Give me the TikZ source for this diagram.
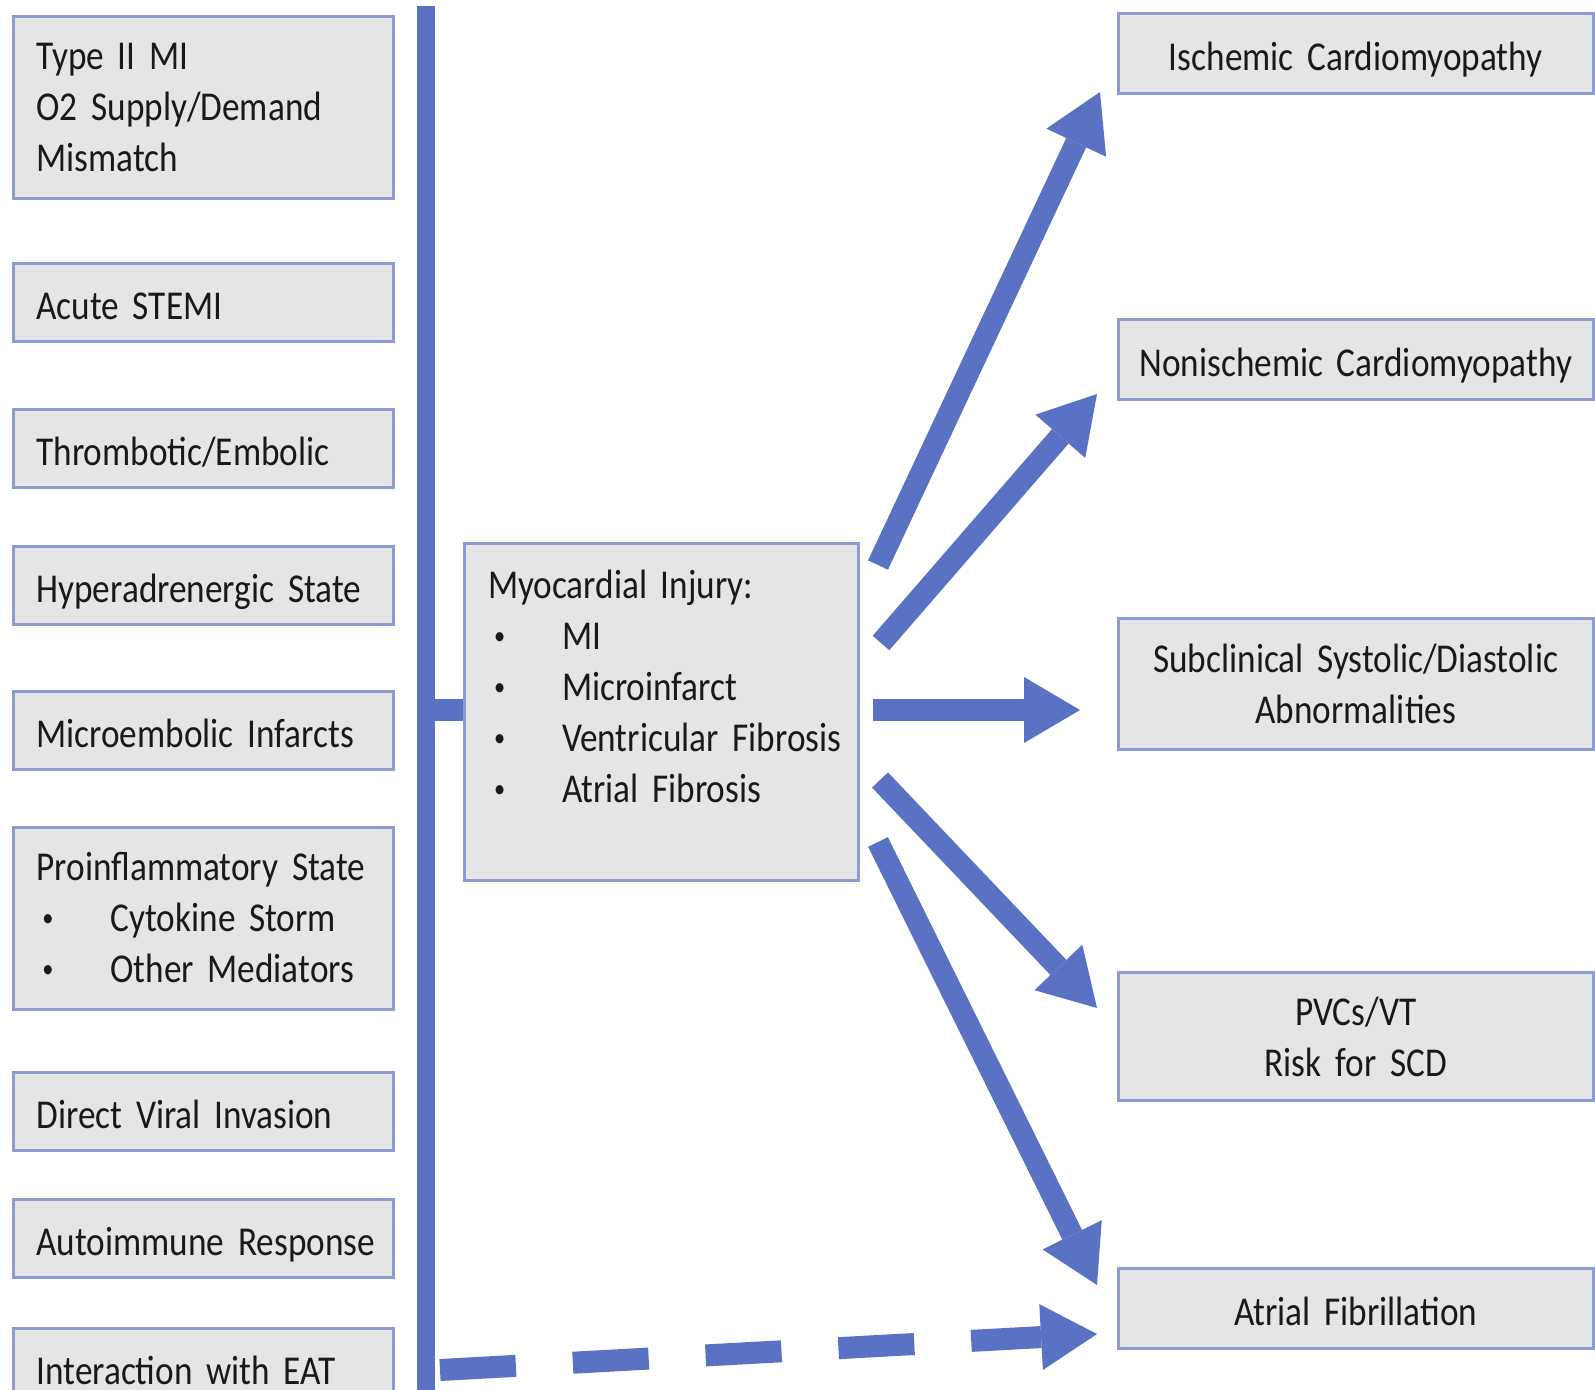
\documentclass[tikz,border=0pt]{standalone}
\usepackage{fontspec}
\setmainfont{Carlito}[FakeStretch=0.86,WordSpace=0.35]
\usetikzlibrary{arrows.meta,calc}
\definecolor{arrowblue}{RGB}{90,114,196}
\definecolor{boxgray}{RGB}{229,229,229}
\definecolor{boxline}{RGB}{140,156,210}
\newcommand{\boxfont}{\fontsize{20.5}{25.5}\selectfont}
\newcommand{\bitem}[1]{\mbox{\makebox[37pt][l]{\hspace{3pt}\raisebox{2.5pt}{\fontsize{13}{13}\selectfont\textbullet}}#1}}
\tikzset{
	box/.style={draw=boxline,fill=boxgray,line width=1.5pt,inner ysep=0pt,text=black!90,font=\boxfont},
	lbox/.style={box,inner xsep=11.5pt,minimum width=190pt,text width=167pt,align=left},
	rbox/.style={box,inner xsep=4pt,minimum width=237.25pt,text width=229.25pt,align=center},
	oneline/.style={text height=19pt,text depth=2pt},
	bigarrow/.style={color=arrowblue,line width=11pt,-{Triangle[length=28pt,width=33pt,line width=0pt]}},
	linkbar/.style={color=arrowblue,line width=9pt}
}

\begin{document}
\begin{tikzpicture}[x=0.5pt,y=-0.5pt]
	\useasboundingbox (0,0) rectangle (1595,1390);
	
	%CAUSES
	\node[lbox,minimum height=91pt] (typeii) at (203.5,108) {Type II MI\\\mbox{O2 Supply/Demand}\\Mismatch};
	\node[lbox,oneline,minimum height=39pt] (stemi)	at (203.5,302.5)  {Acute STEMI};
	\node[lbox,oneline,minimum height=39pt] (thromb)	at (203.5,448.5)  {Thrombotic/Embolic};
	\node[lbox,oneline,minimum height=39pt] (hyper)	at (203.5,585.5)  {\mbox{Hyperadrenergic State}};
	\node[lbox,oneline,minimum height=39pt] (microemb) at (203.5,730)  {\mbox{Microembolic Infarcts}};
	\node[lbox,minimum height=91pt] (proinfl) at (203.5,918) {\mbox{Proinflammatory State}\\\bitem{Cytokine Storm}\\\bitem{Other Mediators}};
	\node[lbox,oneline,minimum height=39pt] (viral)	at (203.5,1111.5) {\mbox{Direct Viral Invasion}};
	\node[lbox,oneline,minimum height=39pt] (autoimm) at (203.5,1238) {\mbox{Autoimmune Response}};
	\node[lbox,oneline,minimum height=39pt] (eat)	at (203.5,1367.5) {\mbox{Interaction with EAT}};
	
	%INJURY
	\node[box,inner xsep=11.75pt,minimum width=197pt,text width=173.5pt,align=left,minimum height=168.5pt] (inj) at (661.5,712)
		{\mbox{Myocardial Injury:}\\\bitem{MI}\\\bitem{Microinfarct}\\\bitem{Ventricular Fibrosis}\\\bitem{Atrial Fibrosis}\\\mbox{}};
	
	%OUTCOMES
	\node[rbox,oneline,minimum height=40pt] (isch)	at (1355.75,53.5)  {\mbox{Ischemic Cardiomyopathy}};
	\node[rbox,oneline,minimum height=40pt] (nonisch) at (1355.75,359.5) {\mbox{Nonischemic Cardiomyopathy}};
	\node[rbox,minimum height=65.5pt] (subcl)	at (1355.75,684)   {\mbox{Subclinical Systolic/Diastolic}\\Abnormalities};
	\node[rbox,minimum height=64pt] (pvc)	at (1355.75,1036.5) {PVCs/VT\\Risk for SCD};
	\node[rbox,oneline,minimum height=40pt] (afib)	at (1355.75,1308.5) {Atrial Fibrillation};
	
	%BAR
	\coordinate (bartop) at (426,6);
	\coordinate (barbot) at (426,1400);
	\coordinate (barmid) at (426,710);
	\coordinate (eatout) at (440,1370);
	\draw[linkbar] (bartop) -- (barbot);
	\draw[linkbar,line width=11pt] (barmid) -- (barmid -| inj.west);
	
	%ARROWS
	\draw[bigarrow] ($(inj.east)+(18,-147)$) -- ($(isch.west)+(-17,38.5)$);
	\draw[bigarrow] ($(inj.east)+(21,-69)$)  -- ($(nonisch.west)+(-20,34.5)$);
	\draw[bigarrow] ($(inj.east)+(13,-2)$)   -- ($(subcl.west)+(-37,26)$);
	\draw[bigarrow] ($(inj.east)+(20,68)$)   -- ($(pvc.west)+(-20,-28.5)$);
	\draw[bigarrow] ($(inj.east)+(18,130)$)  -- ($(afib.west)+(-20,-23.5)$);
	%dashed one from the bar
	\draw[bigarrow,dash pattern=on 38pt off 28.5pt] (eatout) -- ($(afib.west)+(-20,25.5)$);
\end{tikzpicture}
\end{document}
